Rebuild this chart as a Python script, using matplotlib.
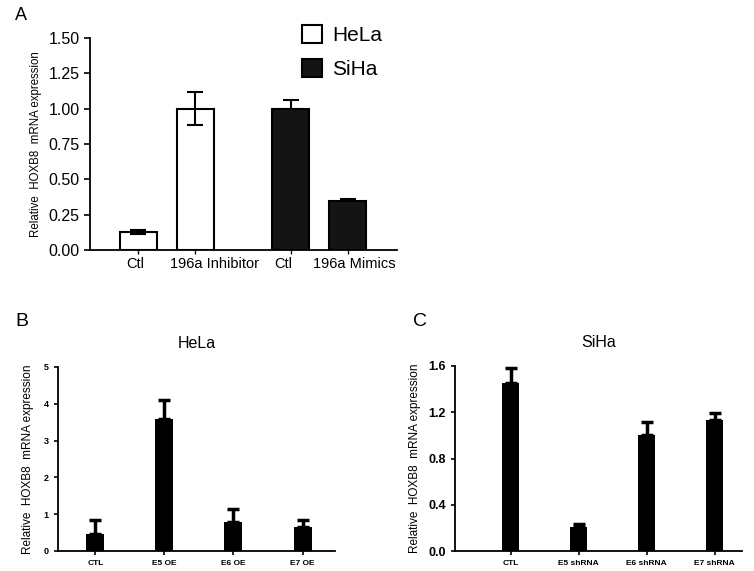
import matplotlib.pyplot as plt
from matplotlib.patches import Patch
from matplotlib.transforms import ScaledTranslation

plt.rcParams['font.family'] = ['Liberation Sans', 'DejaVu Sans']

# panel A
a_labels = ["Ctl", "196a Inhibitor", "Ctl", "196a Mimics"]
a_vals = [0.13, 1.00, 1.00, 0.35]
a_err_lo = [0.015, 0.115, 0.0, 0.0]
a_err_hi = [0.015, 0.115, 0.06, 0.01]
a_colors = ["white", "white", "#141414", "#141414"]
a_yticks = [0.00, 0.25, 0.50, 0.75, 1.00, 1.25, 1.50]

# panel B
b_labels = ["CTL", "E5 OE", "E6 OE", "E7 OE"]
b_vals = [0.45, 3.6, 0.8, 0.65]
b_err = [0.4, 0.5, 0.35, 0.18]

# panel C
c_labels = ["CTL", "E5 shRNA", "E6 shRNA", "E7 shRNA"]
c_vals = [1.45, 0.21, 1.0, 1.13]
c_err = [0.13, 0.02, 0.12, 0.06]

W, H = 754, 571
fig = plt.figure(figsize=(W / 100, H / 100), dpi=100)


def box(x0, y0, x1, y1):
    return [x0 / W, 1 - y1 / H, (x1 - x0) / W, (y1 - y0) / H]


def style(ax, lw=1.2):
    for s in ["top", "right"]:
        ax.spines[s].set_visible(False)
    for s in ["left", "bottom"]:
        ax.spines[s].set_linewidth(lw)


# ---- A ----
ax = fig.add_axes(box(90, 38, 397, 250))
xa = [1, 2, 3.67, 4.67]
ax.bar(xa, a_vals, width=0.65, color=a_colors, edgecolor="black", linewidth=1.5,
       yerr=[a_err_lo, a_err_hi], capsize=6, error_kw=dict(elinewidth=1.5, capthick=1.5))
ax.set_xlim(0.15, 5.535)
ax.set_ylim(0, 1.5)
ax.set_yticks(a_yticks)
ax.set_yticklabels(["%.2f" % v for v in a_yticks], fontsize=11.5)
ax.set_xticks(xa)
ax.set_xticklabels([])
# the original labels sit a little off the bar centres
for x, lab, dx in zip(xa, a_labels, [-2, 14, -5, 5]):
    tr = ax.get_xaxis_transform() + ScaledTranslation(dx / 72, 0, fig.dpi_scale_trans)
    ax.text(x, -0.035, lab, transform=tr, ha="center", va="top", fontsize=10.5)
ax.tick_params(axis="x", length=3, width=1)
ax.tick_params(axis="y", length=4, width=1.2)
ax.set_ylabel("Relative  HOXB8  mRNA expression", fontsize=8.3, labelpad=5)
style(ax, 1.3)
handles = [Patch(facecolor="white", edgecolor="black", linewidth=1.5, label="HeLa"),
           Patch(facecolor="#141414", edgecolor="black", linewidth=1.5, label="SiHa")]
fig.legend(handles=handles, loc="upper left", bbox_to_anchor=(283 / W, 1 - 6 / H),
           frameon=False, fontsize=15, handlelength=0.95, handleheight=1.0,
           handletextpad=0.5, labelspacing=0.65)
fig.text(15 / W, 1 - 16 / H, "A", fontsize=13, va="center", ha="left")

# ---- B ----
ax = fig.add_axes(box(58, 367, 335, 551))
xb = range(len(b_vals))
ax.bar(xb, b_vals, width=0.26, color="black")
ax.errorbar(xb, b_vals, yerr=[[0] * 4, b_err], fmt="none", ecolor="black",
            elinewidth=2.5, capsize=4, capthick=2.5)
ax.set_xlim(-0.54, 3.47)
ax.set_ylim(0, 5)
ax.set_yticks([0, 1, 2, 3, 4, 5])
ax.set_xticks(list(xb))
ax.set_xticklabels(b_labels, fontsize=6, fontweight="bold")
ax.set_yticklabels([0, 1, 2, 3, 4, 5], fontsize=6.5, fontweight="bold")
ax.tick_params(length=3, width=1.2)
ax.set_ylabel("Relative  HOXB8  mRNA expression", fontsize=8.5, labelpad=7)
ax.set_title("HeLa", fontsize=11.5, pad=14)
style(ax, 1.3)
fig.text(15 / W, 1 - 322 / H, "B", fontsize=14, va="center", ha="left")

# ---- C ----
ax = fig.add_axes(box(455, 366, 742, 551))
xc = range(len(c_vals))
ax.bar(xc, c_vals, width=0.25, color="black")
ax.errorbar(xc, c_vals, yerr=[[0] * 4, c_err], fmt="none", ecolor="black",
            elinewidth=2.5, capsize=4, capthick=2.5)
ax.set_xlim(-0.816, 3.40)
ax.set_ylim(0, 1.6)
cyt = [0.0, 0.4, 0.8, 1.2, 1.6]
ax.set_yticks(cyt)
ax.set_yticklabels(["%.1f" % v for v in cyt], fontsize=9, fontweight="bold")
ax.set_xticks(list(xc))
ax.set_xticklabels(c_labels, fontsize=6, fontweight="bold")
ax.tick_params(length=3, width=1.2)
ax.set_ylabel("Relative  HOXB8  mRNA expression", fontsize=8.5, labelpad=5)
ax.set_title("SiHa", fontsize=11.5, pad=14)
style(ax, 1.3)
fig.text(413 / W, 1 - 322 / H, "C", fontsize=14, va="center", ha="left")

fig.savefig("out.png", dpi=100, facecolor="white")
